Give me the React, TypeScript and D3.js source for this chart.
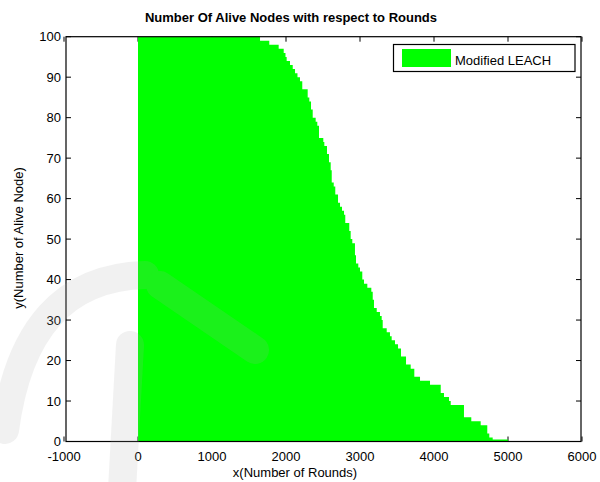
import React from "react";
import * as d3 from "d3";

const dropRounds = [0, 1649, 1774, 1901, 1969, 1993, 2009, 2054, 2091, 2122, 2155, 2189, 2220, 2293, 2315, 2338, 2361, 2401, 2423, 2446, 2504, 2518, 2554, 2581, 2604, 2618, 2645, 2666, 2703, 2730, 2757, 2784, 2801, 2855, 2874, 2896, 2932, 2946, 2977, 3000, 3031, 3054, 3099, 3153, 3172, 3189, 3226, 3270, 3293, 3307, 3361, 3405, 3428, 3473, 3514, 3554, 3622, 3685, 3734, 3811, 3946, 4091, 4135, 4203, 4226, 4405, 4504, 4631, 4720, 4747, 4793, 5000];
const aliveNodes = [100, 99, 98, 97, 96, 95, 94, 93, 92, 91, 90, 89, 87, 85, 84, 82, 80, 79, 78, 75, 74, 73, 71, 69, 67, 64, 63, 61, 59, 58, 57, 56, 54, 52, 50, 49, 46, 44, 43, 42, 40, 39, 38, 37, 35, 33, 32, 31, 30, 28, 27, 26, 25, 24, 23, 21, 19, 18, 16, 15, 14, 12, 11, 10, 9, 6, 5, 4, 2, 1, 0.5, 0.5];
const xTicks = [-1000, 0, 1000, 2000, 3000, 4000, 5000, 6000];
const yTicks = [0, 10, 20, 30, 40, 50, 60, 70, 80, 90, 100];
const seriesName = "Modified LEACH";
const title = "Number Of Alive Nodes with respect to Rounds";
const xLabel = "x(Number of Rounds)";
const yLabel = "y(Number of Alive Node)";

const W = 600, H = 482;
const L = 66, R = 581, T = 36.7, B = 441.5;
const FONT = "'Liberation Sans', Arial, Helvetica, sans-serif";

export default function App() {
  const x = d3.scaleLinear().domain([-1000, 6000]).range([64, 582]);
  const y = d3.scaleLinear().domain([0, 100]).range([B, T]);
  const pts = dropRounds.map((r, i) => [r, aliveNodes[i]] as [number, number]);
  const area = d3.area<[number, number]>()
    .x(d => x(d[0]))
    .y0(y(0))
    .y1(d => y(d[1]))
    .curve(d3.curveStepAfter);
  const tl = 5;
  return (
    <svg width={W} height={H} style={{ position: "absolute", left: 0, top: 0, background: "#fff" }} fontFamily={FONT}>
      <rect x={0} y={0} width={W} height={H} fill="#fff" />
      {xTicks.map(t => (
        <g key={"xt" + t}>
          <line x1={x(t)} x2={x(t)} y1={B} y2={B - tl} stroke="#000" />
          <line x1={x(t)} x2={x(t)} y1={T} y2={T + tl} stroke="#000" />
        </g>
      ))}
      {yTicks.map(t => (
        <g key={"yt" + t}>
          <line x1={L} x2={L + tl} y1={y(t)} y2={y(t)} stroke="#000" />
          <line x1={R} x2={R - tl} y1={y(t)} y2={y(t)} stroke="#000" />
        </g>
      ))}
      <path d={area(pts) || ""} fill="#00ff00" />
      <rect x={L} y={T} width={R - L} height={B - T} fill="none" stroke="#000" strokeWidth={1.2} />
      {xTicks.map(t => (
        <text key={"xl" + t} x={x(t)} y={461} fontSize={13} textAnchor="middle" fill="#000">{t}</text>
      ))}
      {yTicks.map(t => (
        <text key={"yl" + t} x={61} y={y(t) + 4.5} fontSize={13} textAnchor="end" fill="#000">{t}</text>
      ))}
      <text x={291} y={22} fontSize={13} fontWeight="bold" textAnchor="middle" fill="#000">{title}</text>
      <text x={295} y={477} fontSize={13} textAnchor="middle" fill="#000">{xLabel}</text>
      <text transform={`translate(23,${238}) rotate(-90)`} fontSize={13} textAnchor="middle" fill="#000">{yLabel}</text>
      <rect x={393.5} y={44.5} width={181.5} height={27} fill="#fff" stroke="#000" strokeWidth={1.2} />
      <rect x={402} y={49} width={49} height={18} fill="#00ff00" />
      <text x={455} y={65} fontSize={13} fill="#000">{seriesName}</text>
      <g opacity={0.16}>
        <g fill="none" stroke="rgb(170,170,170)" strokeLinecap="round">
          <path d="M 5,430 Q 25,278 145,275" strokeWidth={28} />
          <path d="M 160,285 L 255,350" strokeWidth={28} />
          <path d="M 130,345 L 122,490" strokeWidth={28} />
        </g>
      </g>
    </svg>
  );
}
